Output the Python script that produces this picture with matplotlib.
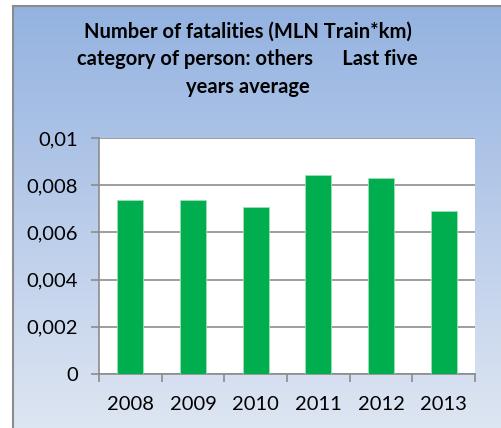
import numpy as np
import matplotlib
matplotlib.use("Agg")
import matplotlib.pyplot as plt
from matplotlib.ticker import FuncFormatter

years = ["2008", "2009", "2010", "2011", "2012", "2013"]
fatalities = [0.00739, 0.00737, 0.00706, 0.00842, 0.00832, 0.00689]
y_ticks = [0, 0.002, 0.004, 0.006, 0.008, 0.01]
title = "Number of fatalities (MLN Train*km)\ncategory of person: others      Last five\nyears average"

plt.rcParams['font.family'] = ['Lato', 'DejaVu Sans']

fig = plt.figure(figsize=(5.02, 4.28), dpi=100)
fig.patch.set_facecolor("white")

# gradient background of the chart box
bg = fig.add_axes([13 / 502, 0, 1 - 13 / 502, 1 - 6 / 428])
top = np.array([0.58, 0.70, 0.88])
bottom = np.array([0.87, 0.90, 0.95])
t = np.linspace(0, 1, 256)[:, None]
grad = top * (1 - t) + bottom * t
bg.imshow(grad[:, None, :], aspect="auto", extent=[0, 1, 0, 1])
bg.set_xticks([])
bg.set_yticks([])
for side in ["right", "bottom"]:
    bg.spines[side].set_visible(False)
for side in ["left", "top"]:
    bg.spines[side].set_color("#8c8c8c")
    bg.spines[side].set_linewidth(1.5)

fig.text(0.5 * (84 + 411) / 502, 1 - 59 / 428, title, ha="center", va="center",
         fontsize=14.5, fontweight="bold", linespacing=1.48)

ax = fig.add_axes([99 / 502, 1 - 374 / 428, (475 - 99) / 502, (374 - 138) / 428])
ax.set_facecolor("white")
x = np.arange(len(years))
ax.bar(x, fatalities, width=0.41, color="#00ae4f", edgecolor="#9fe0b5", linewidth=0.6, zorder=3)
ax.set_xlim(-0.5, len(years) - 0.5)
ax.set_ylim(0, 0.01)
ax.set_yticks(y_ticks)
ax.yaxis.set_major_formatter(FuncFormatter(lambda v, p: "0" if v == 0 else ("%g" % v).replace(".", ",")))
ax.set_xticks(x)
ax.set_xticklabels(years)
ax.set_xticks(np.arange(len(years) + 1) - 0.5, minor=True)
ax.tick_params(axis="x", which="major", length=0, pad=16, labelsize=14.5)
ax.tick_params(axis="x", which="minor", length=6, color="#8c8c8c", width=1.2)
ax.tick_params(axis="y", length=6, color="#8c8c8c", width=1.2, labelsize=14.5, pad=9)
ax.grid(axis="y", color="#8c8c8c", linewidth=1.2, zorder=0)
for side in ["top", "right"]:
    ax.spines[side].set_visible(False)
for side in ["left", "bottom"]:
    ax.spines[side].set_color("#8c8c8c")
    ax.spines[side].set_linewidth(1.2)

fig.savefig("out.png", dpi=100)
